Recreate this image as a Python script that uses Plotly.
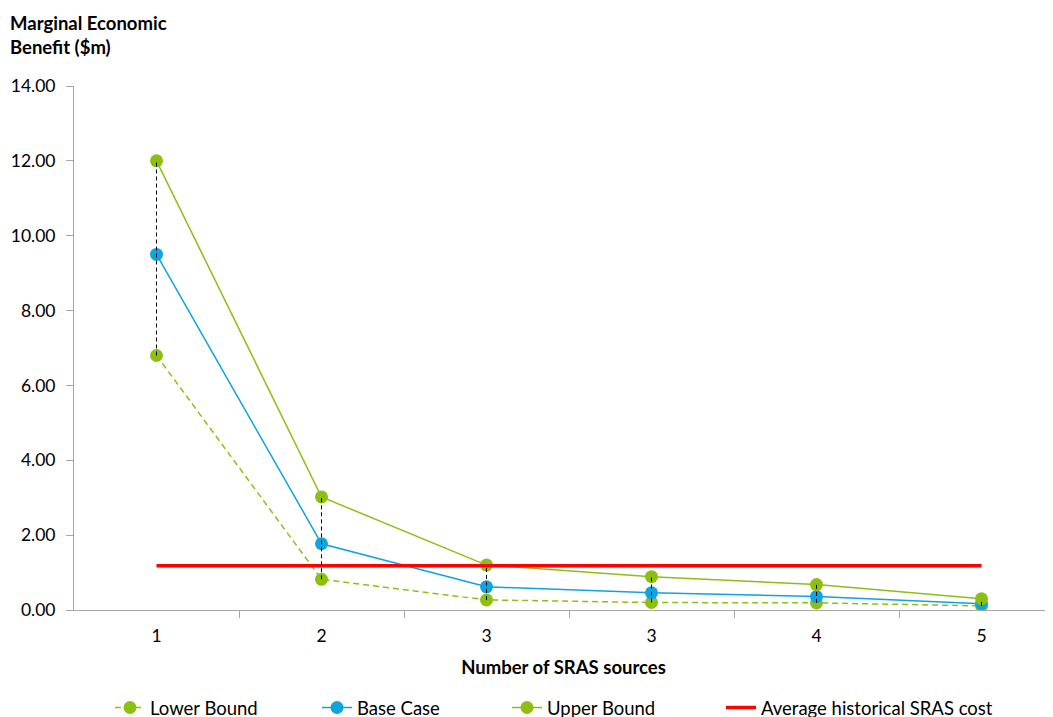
import plotly.graph_objects as go

categories = ["1", "2", "3", "3", "4", "5"]
lower_bound = [6.80, 0.82, 0.27, 0.20, 0.19, 0.11]
base_case = [9.50, 1.77, 0.62, 0.46, 0.36, 0.17]
upper_bound = [12.00, 3.02, 1.20, 0.89, 0.68, 0.30]
avg_sras_cost = [1.18, 1.18, 1.18, 1.18, 1.18, 1.18]

x_pos = list(range(len(categories)))
GREEN = "#8DBF12"
BLUE = "#0FA3DF"
RED = "#FF0000"
AXIS = "#A6A6A6"
FONT = "Lato"

W, H = 1045, 709
L, T, B = 66, 78, 107

fig = go.Figure()
fig.add_trace(go.Scatter(x=x_pos, y=lower_bound, name="Lower Bound", mode="lines+markers",
                         line=dict(color=GREEN, width=1.5, dash="6px,4px"),
                         marker=dict(color=GREEN, size=13), legend="legend"))
fig.add_trace(go.Scatter(x=x_pos, y=base_case, name="Base Case", mode="lines+markers",
                         line=dict(color=BLUE, width=1.5),
                         marker=dict(color=BLUE, size=13), legend="legend2"))
fig.add_trace(go.Scatter(x=x_pos, y=upper_bound, name="Upper Bound", mode="lines+markers",
                         line=dict(color=GREEN, width=1.5),
                         marker=dict(color=GREEN, size=13), legend="legend3"))
fig.add_trace(go.Scatter(x=x_pos, y=avg_sras_cost, name="Average historical SRAS cost", mode="lines",
                         line=dict(color=RED, width=3.5), legend="legend4"))

# high-low lines
hx, hy = [], []
for i, lo, hi in zip(x_pos, lower_bound, upper_bound):
    hx += [i, i, None]
    hy += [lo, hi, None]
fig.add_trace(go.Scatter(x=hx, y=hy, mode="lines", showlegend=False, hoverinfo="skip",
                         line=dict(color="black", width=1, dash="4px,3px")))


def leg(px):
    return dict(orientation="h", xref="container", yref="container",
                x=(px - 8) / W, xanchor="left", y=0.0395, yanchor="top",
                font=dict(size=18.5, family=FONT, color="black"), bgcolor="rgba(0,0,0,0)")


plot_w = W - L
fig.update_layout(
    width=W, height=H,
    margin=dict(l=L, r=0, t=T, b=B),
    paper_bgcolor="white", plot_bgcolor="white",
    font=dict(family=FONT, size=17.5, color="black"),
    showlegend=True,
    legend=leg(110), legend2=leg(317), legend3=leg(507), legend4=leg(721),
    xaxis=dict(range=[-0.5, -0.5 + plot_w / 165.0], tickvals=x_pos, ticktext=categories, ticks="",
               showgrid=False, zeroline=False, showline=True, linecolor=AXIS, linewidth=1,
               ticklabelstandoff=10,
               minor=dict(tickvals=[p + 0.5 for p in x_pos[:-1]], ticks="outside", ticklen=7,
                          tickcolor=AXIS, showgrid=False),
               title=dict(text="<b>Number of SRAS sources</b>", font=dict(size=18.5), standoff=16),
               tickfont=dict(size=17.5)),
    yaxis=dict(range=[0, 14], dtick=2, tickformat=".2f", ticks="outside", ticklen=7,
               tickcolor=AXIS, showgrid=False, zeroline=False, showline=True,
               linecolor=AXIS, linewidth=1, tickfont=dict(size=17.5), ticklabelstandoff=7),
    annotations=[dict(text="<b>Marginal Economic<br>Benefit ($m)</b>", xref="paper", yref="paper",
                      x=(0 - L) / plot_w, y=(H - B - 2) / (H - B - T), xanchor="left", yanchor="top",
                      showarrow=False, align="left", font=dict(size=18.5))],
)

fig.write_html("out.html")
